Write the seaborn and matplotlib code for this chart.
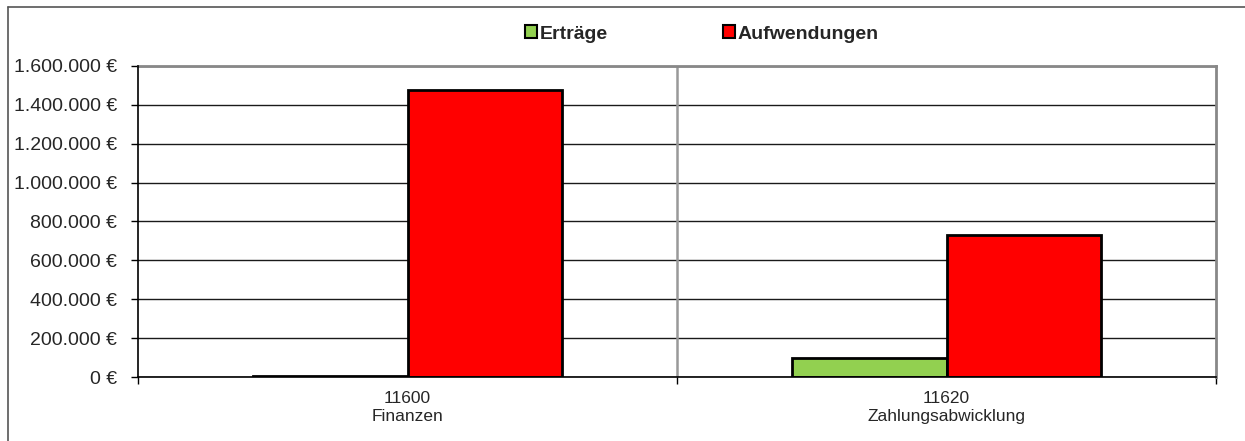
import matplotlib
matplotlib.use("Agg")
import matplotlib.pyplot as plt
from matplotlib.patches import Patch
from matplotlib.lines import Line2D
from matplotlib.ticker import FuncFormatter, FixedLocator
import seaborn as sns
import pandas as pd

# Budget figures per product (EUR)
categories = ["11600\nFinanzen", "11620\nZahlungsabwicklung"]
series = ["Erträge", "Aufwendungen"]
ertraege = [3000, 98000]
aufwendungen = [1475000, 732000]
y_ticks = [0, 200000, 400000, 600000, 800000, 1000000, 1200000, 1400000, 1600000]

colors = {"Erträge": "#92D050", "Aufwendungen": "#FF0000"}

df = pd.DataFrame({
    "Produkt": categories * 2,
    "Art": [series[0]] * len(categories) + [series[1]] * len(categories),
    "Betrag": ertraege + aufwendungen,
})

sns.set_theme(style="white")
plt.rcParams["font.family"] = ["Liberation Sans", "DejaVu Sans"]

W, H = 1245, 441
fig = plt.figure(figsize=(W / 100, H / 100), dpi=100)
ax = fig.add_axes([138 / W, 1 - 377 / H, (1216 - 138) / W, (377 - 66) / H])

sns.barplot(data=df, x="Produkt", y="Betrag", hue="Art", hue_order=series,
            order=categories, palette=colors, edgecolor="black", linewidth=2,
            width=0.572, saturation=1, legend=False, ax=ax, zorder=3)

ax.set_xlim(-0.5, 1.5)
ax.set_ylim(0, 1600000)
ax.set_xlabel("")
ax.set_ylabel("")

# y axis: German number format with euro sign
ax.yaxis.set_major_locator(FixedLocator(y_ticks))
ax.yaxis.set_major_formatter(FuncFormatter(
    lambda v, _: f"{int(round(v)):,}".replace(",", ".") + " €"))
ax.tick_params(axis="y", which="major", direction="out", length=5, width=1,
               color="black", pad=10, labelsize=14, left=True)

# x axis: labels centred under groups, tick marks on category borders
ax.set_xticks([0, 1])
ax.set_xticklabels(categories, fontsize=12.5, linespacing=1.22)
ax.tick_params(axis="x", which="major", length=0, pad=10)
ax.set_xticks([-0.5, 0.5, 1.5], minor=True)
ax.tick_params(axis="x", which="minor", direction="out", length=5, width=1,
               color="black", bottom=True)

# grid lines
ax.yaxis.grid(True, color="#1a1a1a", linewidth=1, zorder=1)
ax.axvline(0.5, color="#999999", linewidth=1.8, zorder=1)
ax.set_axisbelow(True)

for side in ["top", "right"]:
    ax.spines[side].set_color("#888888")
    ax.spines[side].set_linewidth(2)
for side in ["left", "bottom"]:
    ax.spines[side].set_color("black")
    ax.spines[side].set_linewidth(1.2)
    ax.spines[side].set_zorder(4)

# legend above the plot area
handles = [Patch(facecolor=colors[s], edgecolor="black", linewidth=1.5) for s in series]
fig.legend(handles, series, loc="center", bbox_to_anchor=(702 / W, 1 - 34 / H),
           ncol=2, frameon=False, prop={"weight": "bold", "size": 14},
           handlelength=0.6, handleheight=0.6, handletextpad=0.15,
           columnspacing=5.9, borderaxespad=0)

# outer chart frame
fig.add_artist(Line2D([8 / W, 8 / W], [0, 1 - 7 / H], transform=fig.transFigure,
                      color="#555555", linewidth=1.2))
fig.add_artist(Line2D([8 / W, 1], [1 - 7 / H, 1 - 7 / H], transform=fig.transFigure,
                      color="#555555", linewidth=1.2))

fig.savefig("out.png", dpi=100)
